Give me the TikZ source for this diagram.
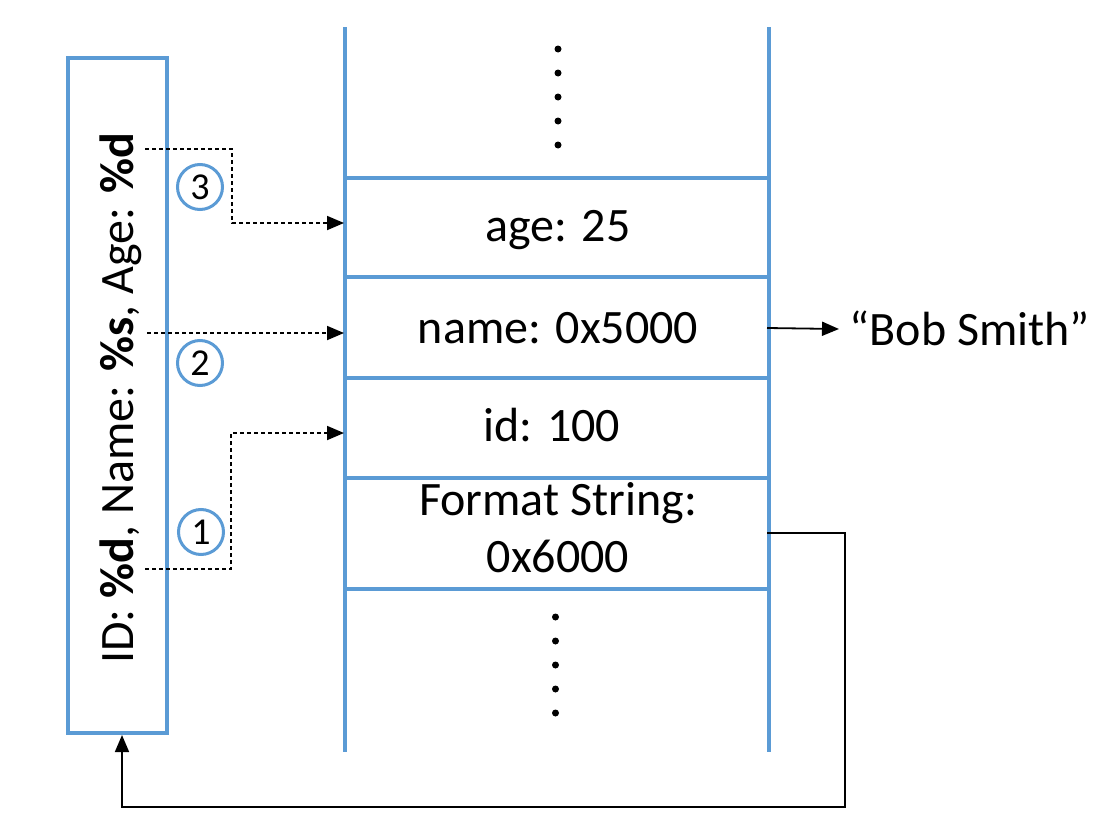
\documentclass[tikz,border=0pt]{standalone}
\usepackage{fontspec}
\setmainfont{Carlito}
\usetikzlibrary{arrows.meta}
\definecolor{blu}{HTML}{5B9BD5}
\begin{document}
\begin{tikzpicture}[x=1pt,y=-1pt,
  bl/.style={draw=blu, line width=4pt},
  txt/.style={inner sep=0pt, font=\fontsize{48}{58}\selectfont},
  num/.style={circle, draw=blu, line width=3pt, minimum size=45pt, inner sep=0pt, font=\fontsize{38}{42}\selectfont},
  dotline/.style={line width=1.8pt, dash pattern=on 4pt off 3pt, -{Triangle[length=17pt,width=14pt]}},
  solid/.style={line width=1.8pt, -{Triangle[length=17pt,width=14pt]}},
  stackdot/.style={fill=black, draw=none}]
\useasboundingbox (0,0) rectangle (1109,835);
% format string box
\node[draw=blu, line width=3.5pt, minimum width=99pt, minimum height=675pt, inner sep=0pt] (fmt) at (117.5,395.5) {};
\node[txt, anchor=base, rotate=90] (fmttext) at (133,398) {ID: \textbf{\%d}, Name: \textbf{\%s}, Age: \textbf{\%d}};
% stack
\draw[bl] (345,27) -- (345,752);
\draw[bl] (769,27) -- (769,752);
\foreach \y in {178,277,378,478,589} \draw[bl] (345,\y) -- (769,\y);
\foreach \y in {49,73,97,121,145} \fill[stackdot] (558,\y) circle (3.5pt);
\foreach \y in {617,641,665,689,713} \fill[stackdot] (555.5,\y) circle (3.5pt);
\node[txt, anchor=base] (age) at (558,241) {age: 25};
\node[txt, anchor=base] (name) at (558,343) {name: 0x5000};
\node[txt, anchor=base] (id) at (552,441) {id: 100};
\node[txt, anchor=base] (fs1) at (558,515) {Format String:};
\node[txt, anchor=base] (fs2) at (558,572) {0x6000};
\node[txt, anchor=base] (bob) at (970,345) {“Bob Smith”};
% numbered circles
\node[num] (c3) at (200,187) {3};
\node[num] (c2) at (200,363) {2};
\node[num] (c1) at (201,532) {1};
% dotted arrows
\coordinate (s3) at (145,149); \coordinate (e3) at (344,223);
\coordinate (s2) at (147,333); \coordinate (e2) at (344,333);
\coordinate (s1) at (145,569); \coordinate (e1) at (344,433);
\draw[dotline] (s3) -- (232,149) -- (232,223) -- (e3);
\draw[dotline] (s2) -- (e2);
\draw[dotline] (s1) -- (231,569) -- (231,433) -- (e1);
% name pointer
\coordinate (np) at (767,328);
\coordinate (bobtip) at (839,329);
\draw[solid] (np) -- (bobtip);
% format string pointer
\coordinate (fp) at (767,533);
\coordinate (fmttip) at (122,735);
\draw[solid] (fp) -- (845,533) -- (845,807) -- (122,807) -- (fmttip);
\end{tikzpicture}
\end{document}
